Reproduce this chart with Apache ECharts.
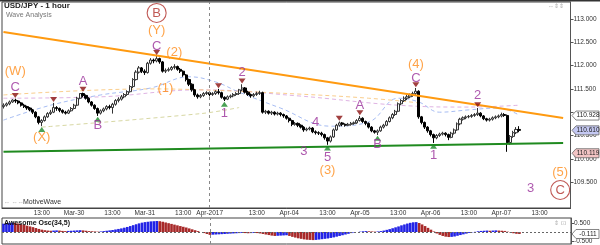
<!DOCTYPE html>
<html><head><meta charset="utf-8">
<script src="https://cdn.jsdelivr.net/npm/echarts@6/dist/echarts.min.js"></script>
<style>html,body{margin:0;padding:0;background:#fff}#c{width:600px;height:245px}</style>
</head><body><div id="c"></div>
<script>
// ---- time axis: hourly bars, two trading sessions (weekend skipped) ----
const sessions = [['2017-03-29T00:00:00Z', 70], ['2017-04-02T21:00:00Z', 123]];
const categories = [];
for (const [start, n] of sessions) {
  const t0 = Date.parse(start);
  for (let i = 0; i < n; i++) categories.push(new Date(t0 + i * 3600000).toISOString().slice(5, 16).replace('T', ' '));
}
const xTickKeys = ['03-29 13:00','03-30 00:00','03-30 13:00','03-31 00:00','03-31 13:00','04-02 21:00','04-03 13:00','04-04 00:00','04-04 13:00','04-05 00:00','04-05 13:00','04-06 00:00','04-06 13:00','04-07 00:00','04-07 13:00'];
const xTickLabels = ['13:00','Mar-30','13:00','Mar-31','13:00','Apr-2017','13:00','Apr-04','13:00','Apr-05','13:00','Apr-06','13:00','Apr-07','13:00'];
const yTicks = [109.5, 110, 110.5, 111, 111.5, 112, 112.5, 113];
const yLabelTicks = [109.5, 110, 110.5, 111.5, 112, 112.5, 113];
const oscTicks = [0.5, -0.5];

// ---- USD/JPY 1h candles: [open, close, low, high] ----
const candles = [
[111.12,111.15,111.08,111.19],[111.15,111.18,111.12,111.21],[111.18,111.22,111.15,111.25],[111.22,111.26,111.2,111.28],[111.26,111.24,111.2,111.29],
[111.24,111.2,111.17,111.26],[111.2,111.15,111.12,111.22],[111.15,111.12,111.09,111.18],[111.12,111.09,111.05,111.14],[111.09,111.05,111.02,111.11],
[111.05,111.0,110.96,111.07],[111.0,110.9,110.87,111.02],[110.9,110.78,110.74,110.92],[110.78,110.82,110.7,110.85],[110.82,110.9,110.8,110.93],
[110.9,110.97,110.88,111.0],[110.97,111.0,110.94,111.05],[111.0,111.1,110.98,111.2],[111.1,111.08,111.03,111.13],[111.08,111.04,111.0,111.1],
[111.04,111.0,110.97,111.06],[111.0,110.98,110.95,111.03],[110.98,111.03,110.96,111.06],[111.03,111.08,111.01,111.11],[111.08,111.15,111.06,111.18],
[111.15,111.3,111.13,111.33],[111.3,111.4,111.28,111.41],[111.4,111.36,111.32,111.42],[111.36,111.3,111.27,111.38],[111.3,111.22,111.19,111.32],
[111.22,111.15,111.12,111.24],[111.15,111.08,111.05,111.17],[111.08,110.98,110.92,111.1],[110.98,111.03,110.95,111.06],[111.03,111.07,111.0,111.1],
[111.07,111.12,111.04,111.15],[111.12,111.1,111.06,111.16],[111.1,111.17,110.97,111.2],[111.17,111.25,111.14,111.28],[111.25,111.28,111.21,111.32],
[111.28,111.33,111.25,111.37],[111.33,111.38,111.3,111.41],[111.38,111.44,111.35,111.47],[111.44,111.55,111.42,111.58],[111.55,111.7,111.52,111.73],
[111.7,111.86,111.68,111.9],[111.86,111.95,111.83,111.99],[111.95,111.88,111.84,111.97],[111.88,111.85,111.8,111.92],[111.85,112.05,111.83,112.08],
[112.05,112.12,112.02,112.16],[112.12,112.1,112.05,112.15],[112.1,112.15,112.07,112.21],[112.15,112.08,112.04,112.17],[112.08,111.88,111.85,112.1],
[111.88,111.9,111.84,111.94],[111.9,111.92,111.87,111.96],[111.92,111.96,111.89,111.99],[111.96,111.98,111.92,112.03],[111.98,111.92,111.89,112.0],
[111.92,111.88,111.84,111.95],[111.88,111.8,111.76,111.9],[111.8,111.7,111.66,111.82],[111.7,111.6,111.56,111.72],[111.6,111.48,111.44,111.62],
[111.48,111.37,111.33,111.5],[111.37,111.33,111.29,111.4],[111.33,111.36,111.3,111.39],[111.36,111.4,111.33,111.43],[111.4,111.42,111.37,111.45],
[111.42,111.38,111.34,111.44],[111.38,111.4,111.35,111.43],[111.4,111.44,111.37,111.47],[111.44,111.42,111.38,111.5],[111.42,111.32,111.29,111.44],
[111.32,111.28,111.24,111.34],[111.28,111.33,111.26,111.36],[111.33,111.35,111.3,111.38],[111.35,111.38,111.32,111.41],[111.38,111.4,111.35,111.43],
[111.4,111.48,111.37,111.5],[111.48,111.52,111.45,111.6],[111.52,111.43,111.4,111.54],[111.43,111.38,111.35,111.46],[111.38,111.35,111.31,111.4],
[111.35,111.38,111.32,111.41],[111.38,111.4,111.35,111.44],[111.4,111.42,111.37,111.46],[111.42,111.0,110.97,111.44],[111.0,111.02,110.96,111.05],
[111.02,110.98,110.95,111.04],[110.98,111.0,110.94,111.03],[111.0,110.96,110.93,111.02],[110.96,110.98,110.93,111.01],[110.98,110.95,110.91,111.0],
[110.95,110.92,110.88,110.97],[110.92,110.87,110.84,110.94],[110.87,110.82,110.78,110.89],[110.82,110.74,110.7,110.84],[110.74,110.76,110.71,110.79],
[110.76,110.72,110.68,110.78],[110.72,110.68,110.65,110.74],[110.68,110.62,110.58,110.7],[110.62,110.64,110.59,110.67],[110.64,110.66,110.61,110.69],
[110.66,110.58,110.55,110.68],[110.58,110.56,110.52,110.61],[110.56,110.55,110.51,110.59],[110.55,110.52,110.48,110.58],[110.52,110.45,110.41,110.54],
[110.45,110.38,110.3,110.47],[110.38,110.47,110.35,110.5],[110.47,110.62,110.45,110.65],[110.62,110.72,110.6,110.75],[110.72,110.77,110.69,110.8],
[110.77,110.74,110.7,110.79],[110.74,110.72,110.69,110.76],[110.72,110.74,110.7,110.77],[110.74,110.76,110.71,110.79],[110.76,110.77,110.73,110.8],
[110.77,110.82,110.75,110.85],[110.82,110.87,110.8,110.92],[110.87,110.8,110.77,110.89],[110.8,110.76,110.72,110.82],[110.76,110.68,110.65,110.78],
[110.68,110.6,110.57,110.7],[110.6,110.57,110.54,110.62],[110.57,110.6,110.51,110.63],[110.6,110.68,110.58,110.71],[110.68,110.72,110.65,110.75],
[110.72,110.8,110.7,110.83],[110.8,110.88,110.78,110.91],[110.88,110.95,110.85,110.98],[110.95,111.02,110.92,111.05],[111.02,111.18,111.0,111.21],
[111.18,111.25,111.15,111.28],[111.25,111.3,111.22,111.34],[111.3,111.33,111.26,111.37],[111.33,111.37,111.3,111.4],[111.37,111.4,111.33,111.44],
[111.4,111.45,111.37,111.52],[111.45,110.9,110.86,111.47],[110.9,110.78,110.74,110.92],[110.78,110.68,110.64,110.8],[110.68,110.6,110.56,110.7],
[110.6,110.52,110.48,110.62],[110.52,110.45,110.34,110.54],[110.45,110.5,110.42,110.53],[110.5,110.53,110.47,110.56],[110.53,110.55,110.5,110.58],
[110.55,110.52,110.48,110.57],[110.52,110.46,110.4,110.54],[110.46,110.55,110.44,110.58],[110.55,110.62,110.52,110.65],[110.62,110.75,110.6,110.78],
[110.75,110.85,110.72,110.88],[110.85,110.88,110.82,110.91],[110.88,110.9,110.85,110.93],[110.9,110.91,110.87,110.94],[110.91,110.93,110.88,110.96],
[110.93,110.95,110.9,110.98],[110.95,110.98,110.92,111.09],[110.98,110.92,110.89,111.0],[110.92,110.86,110.83,110.94],[110.86,110.83,110.8,110.88],
[110.83,110.85,110.8,110.88],[110.85,110.88,110.82,110.91],[110.88,110.9,110.85,110.93],[110.9,110.92,110.87,110.95],[110.92,110.95,110.89,110.99],
[110.95,110.93,110.9,110.98],[110.93,110.35,110.15,110.95],[110.35,110.48,110.3,110.51],[110.48,110.56,110.45,110.6],[110.56,110.63,110.53,110.68],
[110.63,110.61,110.57,110.7]
];

// ---- Awesome Oscillator (34,5) ----
const ao = [
0.46,0.49,0.51,0.52,0.5,0.47,0.43,0.39,0.35,0.31,0.27,0.22,0.17,0.13,0.1,0.08,0.07,0.08,0.09,0.08,
0.06,0.05,0.06,0.07,0.08,0.09,0.1,0.09,0.07,0.05,0.04,0.03,0.02,0.03,0.05,0.07,0.09,0.11,0.14,0.17,
0.2,0.24,0.28,0.33,0.38,0.43,0.48,0.52,0.55,0.57,0.59,0.6,0.61,0.6,0.57,0.53,0.49,0.45,0.41,0.37,
0.33,0.29,0.25,0.2,0.15,0.1,0.05,0.0,-0.06,-0.11,-0.16,-0.15,-0.14,-0.13,-0.12,-0.11,-0.1,-0.09,-0.08,-0.07,
-0.06,-0.05,-0.06,-0.07,-0.06,-0.05,-0.06,-0.08,-0.11,-0.14,-0.17,-0.2,-0.22,-0.21,-0.2,-0.19,-0.18,-0.22,-0.27,-0.31,
-0.35,-0.38,-0.41,-0.43,-0.44,-0.45,-0.44,-0.42,-0.4,-0.38,-0.36,-0.33,-0.3,-0.26,-0.22,-0.18,-0.14,-0.1,-0.06,-0.03,
0.0,0.02,0.04,0.05,0.04,0.03,0.02,0.03,0.05,0.08,0.12,0.16,0.21,0.26,0.31,0.37,0.42,0.47,0.51,0.54,
0.55,0.5,0.42,0.33,0.23,0.13,0.03,-0.08,-0.16,-0.22,-0.26,-0.28,-0.27,-0.25,-0.21,-0.17,-0.13,-0.09,-0.05,-0.02,
0.01,0.04,0.06,0.07,0.08,0.07,0.08,0.09,0.08,0.07,0.06,0.02,-0.03,-0.07,-0.1,-0.111
];

// ---- trend lines and averages ----
const resistance = [['03-29 00:00', 112.72], ['04-07 21:00', 110.875]];
const support = [['03-29 00:00', 110.15], ['04-07 21:00', 110.34]];
const maBlue = [['03-29 00:00',110.83],['03-29 16:00',111.15],['03-30 09:00',111.37],['03-31 02:00',111.52],['03-31 15:00',111.76],['04-02 23:00',111.65],['04-03 07:00',111.43],['04-03 21:00',111.09],['04-04 14:00',110.7],['04-05 03:00',110.79],['04-05 13:00',111.3],['04-05 20:00',111.22],['04-06 03:00',111.0],['04-06 13:00',111.05],['04-06 23:00',111.09],['04-07 06:00',110.94]];
const maOrange = [['03-29 00:00',111.37],['03-31 02:00',111.5],['03-31 19:00',111.48],['04-04 03:00',111.39],['04-05 03:00',111.3],['04-05 20:00',111.2]];
const maPink = [['03-29 00:00',111.3],['03-30 09:00',111.33],['03-31 19:00',111.48],['04-04 03:00',111.35],['04-05 13:00',111.15],['04-06 13:00',111.11],['04-07 06:00',111.15]];
const maOlive = [['03-29 13:00',110.68],['03-31 19:00',110.97],['04-03 07:00',111.1]];

// ---- wave annotations ----
const waveLabels = [
 ['(W)','03-29 04:00',111.88,'o'],['C','03-29 04:00',111.54,'p'],['(X)','03-29 13:00',110.45,'o'],
 ['A','03-30 03:00',111.65,'p'],['B','03-30 08:00',110.71,'p'],['(Y)','03-31 04:00',112.76,'o'],
 ['C','03-31 04:00',112.42,'p'],['(2)','03-31 10:00',112.29,'o'],['(1)','03-31 07:00',111.52,'o'],
 ['1','04-03 02:00',110.98,'p'],['2','04-03 08:00',111.86,'p'],['3','04-04 05:00',110.15,'p'],
 ['4','04-04 09:00',110.79,'p'],['5','04-04 13:00',110.04,'p'],['(3)','04-04 13:00',109.74,'o'],
 ['A','04-05 00:00',111.15,'p'],['B','04-05 06:00',110.3,'p'],['(4)','04-05 19:00',112.03,'o'],
 ['C','04-05 19:00',111.72,'p'],['1','04-06 01:00',110.08,'p'],['2','04-06 16:00',111.35,'p'],
 ['3','04-07 10:00',109.37,'p'],['(5)','04-07 20:00',109.7,'o']
];
const circledLabels = [['B','03-31 04:00',113.13],['C','04-07 20:00',109.33]];
const peakArrows = [['03-29 04:00',111.36],['03-29 17:00',111.27],['03-30 03:00',111.49],['03-31 04:00',112.28],['04-03 00:00',111.57],['04-03 08:00',111.67],['04-04 17:00',110.87],['04-05 00:00',110.99],['04-05 19:00',111.59],['04-06 16:00',111.16]];
const troughArrows = [['03-29 13:00',110.63],['03-30 08:00',110.85],['04-03 02:00',111.17],['04-04 13:00',110.23],['04-05 06:00',110.44],['04-06 01:00',110.27]];
const priceTags = [[110.928,'#ffffff'],[110.610,'#c4c8f2'],[110.119,'#f2c4c4']];
const oscTag = -0.111;

// ---- chart ----
const FONT = '"Liberation Sans", Arial, sans-serif';
const ORANGE = '#ff8c1a', PURPLE = '#9a2f9a', DARKRED = '#b0302a';
const tickSet = new Map(xTickKeys.map((k, i) => [k, xTickLabels[i]]));
const chart = echarts.init(document.getElementById('c'), null, {renderer: 'canvas'});

const dashed = (data, color) => ({type: 'line', data, xAxisIndex: 0, yAxisIndex: 0, smooth: 0.4, symbol: 'none', silent: true,
  lineStyle: {color, width: 1, type: [4, 3]}, z: 1});

const aoData = ao.map((v, i) => ({value: v, itemStyle: {color: (i === 0 || v >= ao[i - 1]) ? '#2323e6' : '#a82a2a'}}));

chart.setOption({
  animation: false,
  backgroundColor: '#fff',
  grid: [
    {left: 2, right: 29, top: 2, height: 206, show: true, borderColor: '#444', borderWidth: 1},
    {left: 2, right: 29, top: 218, height: 26, show: true, borderColor: '#444', borderWidth: 1}
  ],
  xAxis: [
    {type: 'category', data: categories, gridIndex: 0, boundaryGap: true,
     axisLine: {lineStyle: {color: '#444'}},
     axisTick: {interval: (i, v) => tickSet.has(v), length: 2, lineStyle: {color: '#444'}},
     axisLabel: {interval: (i, v) => tickSet.has(v), formatter: v => tickSet.get(v) || '', fontSize: 6.5, color: '#333', margin: 2, fontFamily: FONT},
     splitLine: {show: false}},
    {type: 'category', data: categories, gridIndex: 1, boundaryGap: true,
     axisLine: {show: false}, axisTick: {show: false}, axisLabel: {show: false}, splitLine: {show: false}}
  ],
  yAxis: [
    {type: 'value', gridIndex: 0, position: 'right', min: 108.944, max: 113.365, scale: true,
     axisLine: {show: true, lineStyle: {color: '#555'}},
     axisTick: {show: true, customValues: yTicks, length: 3, lineStyle: {color: '#555'}},
     axisLabel: {customValues: yLabelTicks, formatter: v => v.toFixed(3), fontSize: 6.5, color: '#333', margin: 3, fontFamily: FONT},
     splitLine: {show: false}},
    {type: 'value', gridIndex: 1, position: 'right', min: -0.667, max: 0.778,
     axisLine: {show: true, lineStyle: {color: '#555'}},
     axisTick: {show: true, customValues: oscTicks, length: 3, lineStyle: {color: '#555'}},
     axisLabel: {customValues: oscTicks, formatter: v => v.toFixed(3), fontSize: 6.5, color: '#333', margin: 3, fontFamily: FONT},
     splitLine: {show: false}}
  ],
  series: [
    dashed(maOlive, 'rgba(205,205,140,0.8)'),
    dashed(maPink, 'rgba(215,160,220,0.8)'),
    dashed(maOrange, 'rgba(248,196,120,0.85)'),
    dashed(maBlue, 'rgba(150,176,240,0.85)'),
    {type: 'candlestick', data: candles, xAxisIndex: 0, yAxisIndex: 0, barWidth: 2.6, z: 3,
     itemStyle: {color: '#f4f4f4', color0: '#000000', borderColor: '#333333', borderColor0: '#000000', borderWidth: 1},
     markLine: {silent: true, symbol: 'none', label: {show: false},
       lineStyle: {color: '#888', type: [3, 3], width: 1}, data: [{xAxis: '04-02 21:00'}]}},
    {type: 'line', data: resistance, symbol: 'none', silent: true, lineStyle: {color: '#ff9a10', width: 2}, z: 4},
    {type: 'line', data: support, symbol: 'none', silent: true, lineStyle: {color: '#1f8a1f', width: 2}, z: 4},
    {type: 'scatter', data: peakArrows, symbol: 'triangle', symbolRotate: 180, symbolSize: [7, 5], silent: true, z: 6,
     itemStyle: {color: '#8a1010'}},
    {type: 'scatter', data: troughArrows, symbol: 'triangle', symbolSize: [7, 5], silent: true, z: 6,
     itemStyle: {color: '#1d8a2a'}},
    {type: 'scatter', silent: true, z: 7, symbolSize: 1, itemStyle: {color: 'rgba(0,0,0,0)'},
     data: waveLabels.map(w => ({value: [w[1], w[2]], label: {show: true, position: 'inside', formatter: w[0],
       color: w[3] === 'o' ? ORANGE : PURPLE, fontSize: 13, fontFamily: FONT}}))},
    {type: 'scatter', silent: true, z: 7, symbol: 'circle', symbolSize: 19,
     itemStyle: {color: 'rgba(255,255,255,0)', borderColor: DARKRED, borderWidth: 1.1},
     data: circledLabels.map(w => ({value: [w[1], w[2]], label: {show: true, position: 'inside', formatter: w[0],
       color: DARKRED, fontSize: 13, fontFamily: FONT}}))},
    {type: 'bar', data: aoData, xAxisIndex: 1, yAxisIndex: 1, barCategoryGap: '12%', silent: true,
     markLine: {silent: true, symbol: 'none', label: {show: false}, data: [
       {yAxis: 0, lineStyle: {color: '#666', type: [2, 2], width: 1}},
       {xAxis: '04-02 21:00', lineStyle: {color: '#888', type: [3, 3], width: 1}}]}}
  ]
});

// price tags on the right axis
const tagGfx = [];
const tagShape = (y, value, fill) => {
  const x0 = 572;
  tagGfx.push({type: 'polygon', shape: {points: [[x0, y], [x0 + 4, y - 4.5], [x0 + 27, y - 4.5], [x0 + 27, y + 4.5], [x0 + 4, y + 4.5]]},
    style: {fill, stroke: '#666', lineWidth: 0.8}, z: 20});
  tagGfx.push({type: 'text', x: x0 + 16, y, style: {text: value, fill: '#222', font: '6.5px ' + FONT, align: 'center', verticalAlign: 'middle'}, z: 21});
};
priceTags.forEach(([v, fill]) => tagShape(chart.convertToPixel({yAxisIndex: 0}, v), v.toFixed(3), fill));
tagShape(chart.convertToPixel({yAxisIndex: 1}, oscTag), oscTag.toFixed(3), '#ffffff');

chart.setOption({graphic: [
  {type: 'line', shape: {x1: 0, y1: 0.5, x2: 600, y2: 0.5}, style: {stroke: '#333', lineWidth: 2}},
  {type: 'text', left: 4, top: 2, style: {text: 'USD/JPY - 1 hour', font: 'bold 8px ' + FONT, fill: '#222'}},
  {type: 'text', left: 6, top: 12, style: {text: 'Wave Analysis', font: '7px ' + FONT, fill: '#777'}},
  {type: 'text', left: 548, top: 3, style: {text: '⇔⇕⇕', font: '6px ' + FONT, fill: '#aaa'}},
  {type: 'text', left: 4, top: 199, style: {text: '⇔ ⇔⇔', font: '6px ' + FONT, fill: '#aaa'}},
  {type: 'text', left: 23, top: 199, style: {text: 'MotiveWave', font: '7px ' + FONT, fill: '#333'}},
  {type: 'text', left: 4, top: 220, style: {text: 'Awesome Osc(34,5)', font: 'bold 7px ' + FONT, fill: '#111'}, z: 30},
  {type: 'text', left: 554, top: 220, style: {text: '⇕ ⊡', font: '6px ' + FONT, fill: '#aaa'}},
  ...tagGfx
]});
</script></body></html>
